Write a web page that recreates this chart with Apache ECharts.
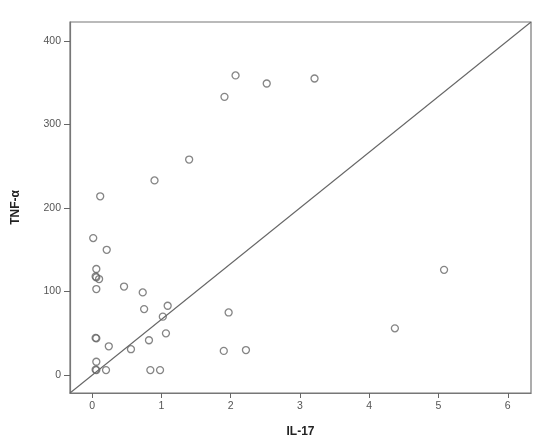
<!DOCTYPE html>
<html>
<head>
<meta charset="utf-8">
<script src="https://cdn.jsdelivr.net/npm/echarts@6/dist/echarts.min.js"></script>
<style>
html,body{margin:0;padding:0;background:#fff;}
#chart{width:550px;height:443px;}
</style>
</head>
<body>
<div id="chart"></div>
<script>
// Data
var il17 = [0.015, 0.21, 0.06, 0.05, 0.06, 0.10, 0.06, 0.46, 0.73, 0.75, 1.09, 1.02, 1.065,
            0.05, 0.06, 0.24, 0.56, 0.82, 0.06, 0.05, 0.06, 0.20, 0.84, 0.98, 1.97, 1.90, 2.22,
            5.08, 4.37, 0.116, 0.90, 1.40, 1.91, 2.07, 2.52, 3.21];
var tnf  = [164, 150, 127, 118, 117, 115, 103, 106, 99, 79, 83, 70, 50,
            44.5, 44, 34.5, 31, 41.7, 16, 6.5, 6, 6, 6, 6, 75, 29, 30,
            126, 56, 214, 233, 258, 333, 358.7, 349, 355];
var xRange = [-0.32, 6.335];
var yRange = [-21.4, 422.6];
var xTicks = [0, 1, 2, 3, 4, 5, 6];
var yTicks = [0, 100, 200, 300, 400];

var points = il17.map(function (v, i) { return [v, tnf[i]]; });
var diagonal = [[xRange[0], yRange[0]], [xRange[1], yRange[1]]];

var chart = echarts.init(document.getElementById('chart'), null, {renderer: 'canvas'});
var labelStyle = {color: '#555', fontSize: 10.5, fontFamily: 'Liberation Sans, Arial, sans-serif'};
chart.setOption({
  animation: false,
  backgroundColor: '#fff',
  grid: {left: 70, top: 22, right: 19, bottom: 48, show: true, borderColor: '#777', borderWidth: 1.2, backgroundColor: 'transparent'},
  xAxis: {
    type: 'value', min: xRange[0], max: xRange[1],
    name: 'IL-17', nameLocation: 'middle', nameGap: 33,
    nameTextStyle: {fontWeight: 'bold', fontSize: 12, color: '#222', fontFamily: 'Liberation Sans, Arial, sans-serif'},
    axisLine: {show: true, onZero: false, lineStyle: {color: '#777', width: 1.2}},
    axisTick: {show: true, length: 5, lineStyle: {color: '#666'}, customValues: xTicks},
    axisLabel: Object.assign({margin: 8, customValues: xTicks}, labelStyle),
    splitLine: {show: false}
  },
  yAxis: {
    type: 'value', min: yRange[0], max: yRange[1],
    name: 'TNF-α', nameLocation: 'middle', nameGap: 48,
    nameTextStyle: {fontWeight: 'bold', fontSize: 12, color: '#222', fontFamily: 'Liberation Sans, Arial, sans-serif'},
    axisLine: {show: true, onZero: false, lineStyle: {color: '#777', width: 1.2}},
    axisTick: {show: true, length: 6, lineStyle: {color: '#666'}, customValues: yTicks},
    axisLabel: Object.assign({margin: 9, customValues: yTicks}, labelStyle),
    splitLine: {show: false}
  },
  series: [
    {
      type: 'line', data: diagonal, symbol: 'none', silent: true,
      lineStyle: {color: '#666', width: 1.1}
    },
    {
      type: 'scatter', data: points, symbol: 'circle', symbolSize: 7,
      itemStyle: {color: 'rgba(255,255,255,0)', borderColor: '#666', borderWidth: 1.3}
    }
  ]
});
</script>
</body>
</html>
